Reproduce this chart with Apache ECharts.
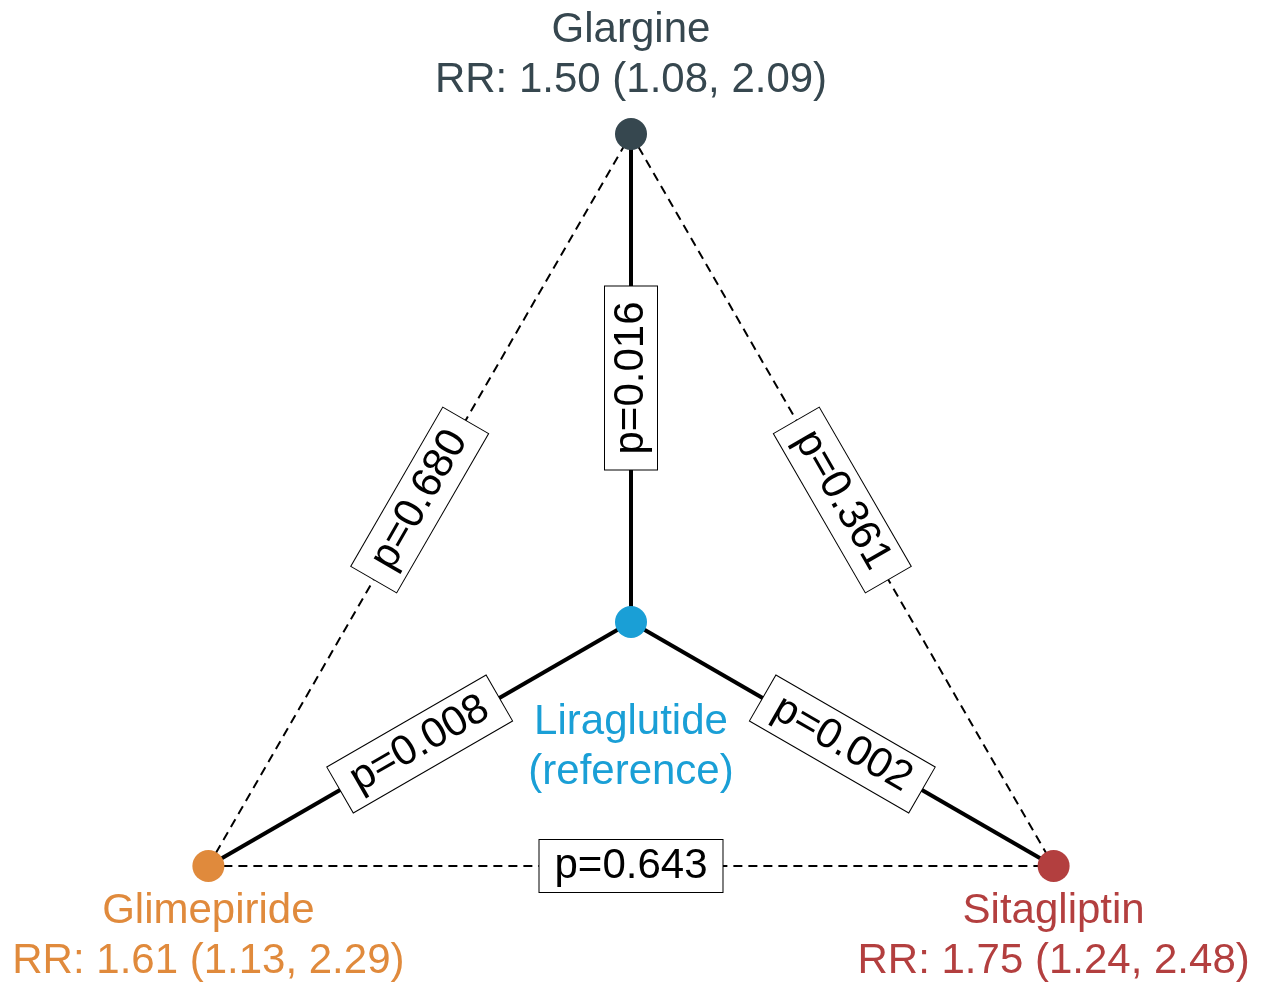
<!DOCTYPE html>
<html>
<head>
<meta charset="utf-8">
<title>Network of treatment comparisons</title>
<script src="https://cdn.jsdelivr.net/npm/echarts@6/dist/echarts.min.js"></script>
<style>
  html, body { margin: 0; padding: 0; background: #ffffff; }
  #chart { width: 1270px; height: 983px; }
</style>
</head>
<body>
<div id="chart"></div>
<script>
// Treatments and their relative risks versus the reference (liraglutide)
const treatments = ['Glargine', 'Liraglutide', 'Glimepiride', 'Sitagliptin'];
const rrEstimate = [1.50, null, 1.61, 1.75];
const rrLower    = [1.08, null, 1.13, 1.24];
const rrUpper    = [2.09, null, 2.29, 2.48];
const referenceIndex = 1;

// Pairwise comparisons: [treatment A, treatment B, p-value, direct comparison?]
const compareFrom = ['Glargine', 'Glimepiride', 'Liraglutide', 'Glimepiride', 'Glargine', 'Glimepiride'];
const compareTo   = ['Liraglutide', 'Liraglutide', 'Sitagliptin', 'Glargine', 'Sitagliptin', 'Sitagliptin'];
const pValues     = [0.016, 0.008, 0.002, 0.680, 0.361, 0.643];
const isDirect    = [true, true, true, false, false, false];

// Layout: reference at the centre, the others on a unit circle (equilateral triangle)
const layoutX = [0, 0, -Math.sqrt(3) / 2, Math.sqrt(3) / 2];
const layoutY = [1, 0, -0.5, -0.5];

const nodeColors = ['#36474f', '#1a9fd6', '#e08a3c', '#b33f3f'];
const FONT = '"Liberation Sans", Arial, sans-serif';

const idx = name => treatments.indexOf(name);

function nodeLabel(i) {
  if (i === referenceIndex) return treatments[i] + '\n(reference)';
  return treatments[i] + '\nRR: ' + rrEstimate[i].toFixed(2) +
    ' (' + rrLower[i].toFixed(2) + ', ' + rrUpper[i].toFixed(2) + ')';
}

const nodeData = treatments.map((t, i) => {
  let position = 'bottom', distance = 4;
  if (i === 0) { position = 'top'; distance = 13; }
  if (i === referenceIndex) { position = 'bottom'; distance = 59; }
  return {
    name: t,
    value: [layoutX[i], layoutY[i]],
    itemStyle: { color: nodeColors[i], opacity: 1 },
    label: {
      show: true,
      position: position,
      distance: distance,
      formatter: nodeLabel(i),
      color: nodeColors[i],
      opacity: 1,
      fontSize: 42,
      lineHeight: 50,
      fontFamily: FONT,
      align: 'center'
    }
  };
});

const edgeData = compareFrom.map((a, k) => {
  const i = idx(a), j = idx(compareTo[k]);
  return {
    coords: [[layoutX[i], layoutY[i]], [layoutX[j], layoutY[j]]],
    lineStyle: isDirect[k]
      ? { color: '#000', width: 4, type: 'solid', opacity: 1 }
      : { color: '#000', width: 2, type: [9, 6], opacity: 1 }
  };
});

const edgeLabelData = compareFrom.map((a, k) => {
  const i = idx(a), j = idx(compareTo[k]);
  return [layoutX[i], layoutY[i], layoutX[j], layoutY[j], pValues[k]];
});

const chart = echarts.init(document.getElementById('chart'), null, { renderer: 'canvas' });

chart.setOption({
  backgroundColor: '#ffffff',
  animation: false,
  grid: { left: 21, right: 29, top: 12, bottom: 19.4, containLabel: false, outerBoundsMode: 'none' },
  xAxis: { type: 'value', min: -1.25, max: 1.25, show: false },
  yAxis: { type: 'value', min: -0.7, max: 1.25, show: false },
  series: [
    {
      type: 'lines',
      coordinateSystem: 'cartesian2d',
      polyline: false,
      silent: true,
      z: 1,
      data: edgeData
    },
    {
      type: 'custom',
      coordinateSystem: 'cartesian2d',
      silent: true,
      z: 3,
      data: edgeLabelData,
      renderItem: function (params, api) {
        const p1 = api.coord([api.value(0), api.value(1)]);
        const p2 = api.coord([api.value(2), api.value(3)]);
        const mx = (p1[0] + p2[0]) / 2;
        const my = (p1[1] + p2[1]) / 2;
        // text runs along the edge, kept upright
        let ang = Math.atan2(-(p2[1] - p1[1]), p2[0] - p1[0]);
        if (ang > Math.PI / 2 + 1e-6) ang -= Math.PI;
        if (ang <= -Math.PI / 2 + 1e-6) ang += Math.PI;
        return {
          type: 'text',
          x: mx,
          y: my,
          rotation: ang,
          style: {
            text: 'p=' + api.value(4).toFixed(3),
            fill: '#000',
            font: '42px ' + FONT,
            align: 'center',
            verticalAlign: 'middle',
            lineHeight: 44,
            backgroundColor: '#ffffff',
            borderColor: '#000',
            borderWidth: 1,
            padding: [4, 15]
          }
        };
      }
    },
    {
      type: 'scatter',
      symbol: 'circle',
      symbolSize: 32,
      silent: true,
      z: 5,
      itemStyle: { opacity: 1 },
      data: nodeData
    }
  ]
});
</script>
</body>
</html>
